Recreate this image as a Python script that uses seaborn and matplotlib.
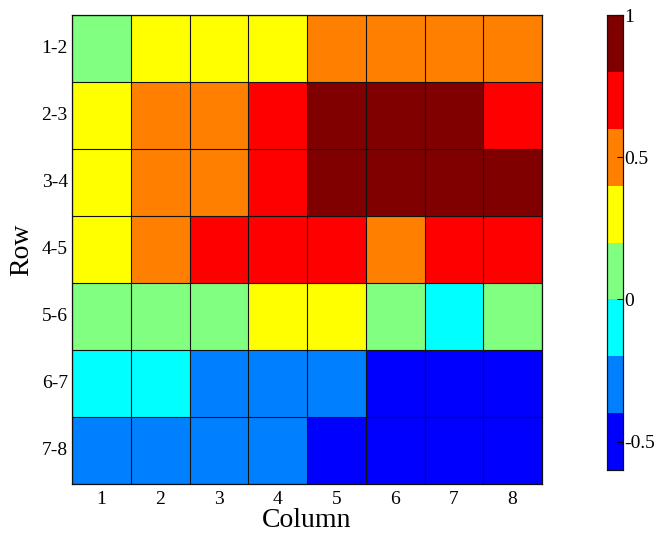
import numpy as np
import pandas as pd
import seaborn as sns
import matplotlib
matplotlib.use("Agg")
import matplotlib.pyplot as plt
from matplotlib.colors import ListedColormap, BoundaryNorm

# Row pairs and column indices
rows = ["1-2", "2-3", "3-4", "4-5", "5-6", "6-7", "7-8"]
columns = ["1", "2", "3", "4", "5", "6", "7", "8"]

# Correlation values per row pair (one list per row)
r12 = [0.10, 0.30, 0.30, 0.30, 0.50, 0.50, 0.50, 0.50]
r23 = [0.30, 0.50, 0.50, 0.70, 0.90, 0.90, 0.90, 0.70]
r34 = [0.30, 0.50, 0.50, 0.70, 0.90, 0.90, 0.90, 0.90]
r45 = [0.30, 0.50, 0.70, 0.70, 0.70, 0.50, 0.70, 0.70]
r56 = [0.10, 0.10, 0.10, 0.30, 0.30, 0.10, -0.10, 0.10]
r67 = [-0.10, -0.10, -0.30, -0.30, -0.30, -0.50, -0.50, -0.50]
r78 = [-0.30, -0.30, -0.30, -0.30, -0.50, -0.50, -0.50, -0.50]

# Discrete colour levels
levels = [-0.6, -0.4, -0.2, 0.0, 0.2, 0.4, 0.6, 0.8, 1.0]
level_colors = ["#0000FF", "#0080FF", "#00FFFF", "#80FF80",
                "#FFFF00", "#FF8000", "#FF0000", "#800000"]
cbar_ticks = [-0.5, 0, 0.5, 1]

data = pd.DataFrame([r12, r23, r34, r45, r56, r67, r78], index=rows, columns=columns)

cmap = ListedColormap(level_colors)
norm = BoundaryNorm(levels, cmap.N)

plt.rcParams["font.family"] = ["Liberation Serif", "DejaVu Serif"]

fig = plt.figure(figsize=(6.58, 5.38), dpi=100)
ax = fig.add_axes([72 / 658, 1 - 484 / 538, 470 / 658, 469 / 538])
cax = fig.add_axes([607 / 658, 1 - 470 / 538, 16 / 658, 455 / 538])

sns.heatmap(data, ax=ax, cmap=cmap, norm=norm, linewidths=0,
            cbar=True, cbar_ax=cax, cbar_kws={"ticks": cbar_ticks})

# Thin cell borders along every row and column boundary
n_rows, n_cols = data.shape
ax.hlines(np.arange(n_rows + 1), 0, n_cols, colors="#111111", linewidth=0.8)
ax.vlines(np.arange(n_cols + 1), 0, n_rows, colors="#111111", linewidth=0.8)

for side in ["left", "bottom", "right", "top"]:
    ax.spines[side].set_visible(True)
    ax.spines[side].set_color("#111111")
    ax.spines[side].set_linewidth(0.9)

ax.tick_params(axis="x", length=0, labelsize=14, pad=5)
ax.tick_params(axis="y", length=0, labelsize=14, pad=3)
ax.set_yticklabels(rows, rotation=0)
ax.set_xticklabels(columns, rotation=0)
ax.set_xlabel("Column", fontsize=20, labelpad=0)
ax.set_ylabel("Row", fontsize=20, labelpad=5)

cax.minorticks_off()
cax.tick_params(labelsize=14, length=4, width=0.8, direction="in", pad=1)
cax.set_yticklabels(["-0.5", "0", "0.5", "1"])
for s in cax.spines.values():
    s.set_visible(True)
    s.set_color("#111111")
    s.set_linewidth(0.8)

fig.savefig("out.png", dpi=100, facecolor="white")
